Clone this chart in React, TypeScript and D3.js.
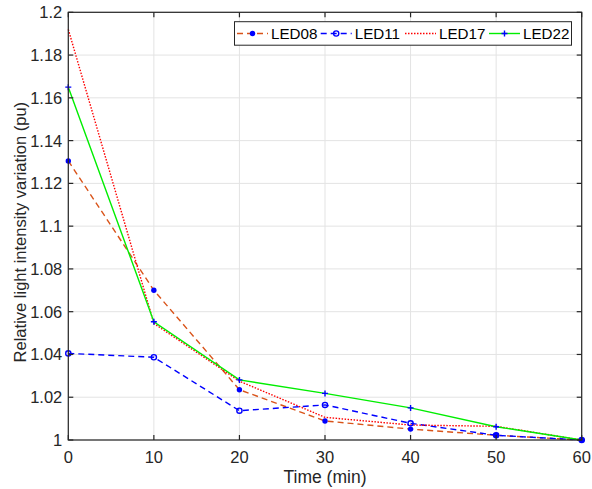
import React, { useEffect, useRef } from "react";
import * as d3 from "d3";

const times = [0, 10, 20, 30, 40, 50, 60];
const led08 = [1.1305, 1.07, 1.0235, 1.0089, 1.0051, 1.0022, 1.0];
const led11 = [1.0405, 1.0387, 1.0137, 1.0164, 1.0078, 1.0022, 1.0];
const led17 = [1.192, 1.0545, 1.0275, 1.0106, 1.007, 1.0064, 1.0];
const led22 = [1.165, 1.0553, 1.0281, 1.0218, 1.015, 1.0062, 1.0];
const xTicks = [0, 10, 20, 30, 40, 50, 60];
const yTicks = [1, 1.02, 1.04, 1.06, 1.08, 1.1, 1.12, 1.14, 1.16, 1.18, 1.2];

const seriesList = [
  { name: "LED08", values: led08, color: "#D95319", dash: "6,4", marker: "dot" },
  { name: "LED11", values: led11, color: "#0000ff", dash: "6,4", marker: "circle" },
  { name: "LED17", values: led17, color: "#ff0000", dash: "1.5,1.5", marker: "none" },
  { name: "LED22", values: led22, color: "#00ee00", dash: null, marker: "plus" },
];

const App = () => {
  const ref = useRef<SVGSVGElement>(null);

  useEffect(() => {
    const width = 592;
    const height = 489;
    const margin = { top: 12.3, left: 68.3, bottom: 49, right: 10.3 };
    const font = "'Liberation Sans', Arial, Helvetica, sans-serif";
    const axisColor = "#262626";

    const svg = d3.select(ref.current).attr("width", width).attr("height", height);
    svg.selectAll("*").remove();

    const x = d3.scaleLinear().domain([0, 60]).range([margin.left, width - margin.right]);
    const y = d3.scaleLinear().domain([1, 1.2]).range([height - margin.bottom, margin.top]);

    // grid
    const grid = svg.append("g").attr("stroke", "#e3e3e3").attr("stroke-width", 1);
    grid.selectAll("line.gx").data(xTicks).enter().append("line")
      .attr("x1", (d) => x(d)).attr("x2", (d) => x(d))
      .attr("y1", y(1)).attr("y2", y(1.2));
    grid.selectAll("line.gy").data(yTicks).enter().append("line")
      .attr("x1", x(0)).attr("x2", x(60))
      .attr("y1", (d) => y(d)).attr("y2", (d) => y(d));

    // lines
    const line = d3.line<number>()
      .x((d, i) => x(times[i]))
      .y((d) => y(d));

    seriesList.forEach((s) => {
      svg.append("path")
        .datum(s.values)
        .attr("fill", "none")
        .attr("stroke", s.color)
        .attr("stroke-width", 1.4)
        .attr("stroke-dasharray", s.dash)
        .attr("d", line);
    });

    const drawMarker = (g, kind, cx, cy) => {
      if (kind === "dot") {
        g.append("circle").attr("cx", cx).attr("cy", cy).attr("r", 2.7).attr("fill", "#0000ff");
      } else if (kind === "circle") {
        g.append("circle").attr("cx", cx).attr("cy", cy).attr("r", 2.6)
          .attr("fill", "none").attr("stroke", "#0000ff").attr("stroke-width", 1.4);
      } else if (kind === "plus") {
        g.append("path")
          .attr("d", `M${cx - 3},${cy}H${cx + 3}M${cx},${cy - 3}V${cy + 3}`)
          .attr("stroke", "#0000ff").attr("stroke-width", 1.4);
      }
    };

    seriesList.forEach((s) => {
      const g = svg.append("g");
      s.values.forEach((v, i) => drawMarker(g, s.marker, x(times[i]), y(v)));
    });

    // axes box
    const box = svg.append("g").attr("stroke", axisColor).attr("stroke-width", 1.2).attr("fill", "none");
    box.append("rect")
      .attr("x", x(0)).attr("y", y(1.2))
      .attr("width", x(60) - x(0)).attr("height", y(1) - y(1.2));

    const tl = 5;
    xTicks.forEach((t) => {
      box.append("line").attr("x1", x(t)).attr("x2", x(t)).attr("y1", y(1)).attr("y2", y(1) - tl);
      box.append("line").attr("x1", x(t)).attr("x2", x(t)).attr("y1", y(1.2)).attr("y2", y(1.2) + tl);
    });
    yTicks.forEach((t) => {
      box.append("line").attr("x1", x(0)).attr("x2", x(0) + tl).attr("y1", y(t)).attr("y2", y(t));
      box.append("line").attr("x1", x(60)).attr("x2", x(60) - tl).attr("y1", y(t)).attr("y2", y(t));
    });

    // tick labels
    svg.append("g").selectAll("text").data(xTicks).enter().append("text")
      .attr("x", (d) => x(d)).attr("y", y(1) + 23)
      .attr("text-anchor", "middle")
      .attr("font-family", font).attr("font-size", 16.5).attr("fill", axisColor)
      .text((d) => d);

    svg.append("g").selectAll("text").data(yTicks).enter().append("text")
      .attr("x", x(0) - 6).attr("y", (d) => y(d)).attr("dy", "0.36em")
      .attr("text-anchor", "end")
      .attr("font-family", font).attr("font-size", 16.5).attr("fill", axisColor)
      .text((d) => d3.format("~g")(d));

    // axis titles
    svg.append("text")
      .attr("x", (x(0) + x(60)) / 2).attr("y", 483)
      .attr("text-anchor", "middle")
      .attr("font-family", font).attr("font-size", 17.5).attr("fill", axisColor)
      .text("Time (min)");

    svg.append("text")
      .attr("transform", `translate(26, ${(y(1) + y(1.2)) / 2 + 6}) rotate(-90)`)
      .attr("text-anchor", "middle")
      .attr("font-family", font).attr("font-size", 16.5).attr("fill", axisColor)
      .text("Relative light intensity variation (pu)");

    // legend
    const legend = svg.append("g");
    legend.append("rect")
      .attr("x", 234.5).attr("y", 21.7).attr("width", 337).attr("height", 23.5)
      .attr("fill", "#fff").attr("stroke", axisColor).attr("stroke-width", 1);

    const legendX = [237, 320.7, 405, 489];
    seriesList.forEach((s, i) => {
      const lx = legendX[i];
      const ly = 33.5;
      legend.append("line")
        .attr("x1", lx).attr("x2", lx + 31).attr("y1", ly).attr("y2", ly)
        .attr("stroke", s.color).attr("stroke-width", 1.4)
        .attr("stroke-dasharray", s.dash);
      drawMarker(legend, s.marker, lx + 15.5, ly);
      legend.append("text")
        .attr("x", lx + 34).attr("y", ly).attr("dy", "0.36em")
        .attr("font-family", font).attr("font-size", 15.2).attr("fill", "#000")
        .text(s.name);
    });
  }, []);

  return <svg ref={ref} style={{ position: "absolute", left: 0, top: 0 }}></svg>;
};

export default App;
